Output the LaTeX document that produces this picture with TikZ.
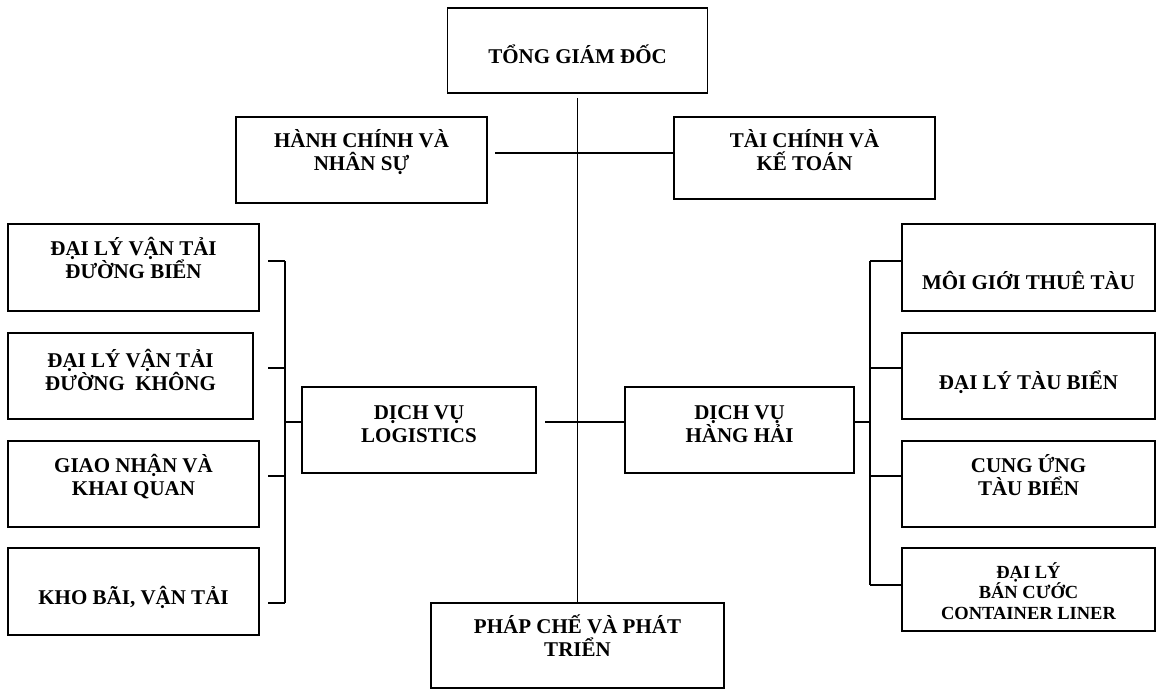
\documentclass[tikz,border=0pt]{standalone}
\usepackage{fontspec}
\setmainfont{Liberation Serif}
\usepackage{tikz}
\usetikzlibrary{calc}
\newcommand{\bigtxt}{\fontsize{21}{23}\selectfont\bfseries}
\newcommand{\smalltxt}{\fontsize{18.5}{20.5}\selectfont\bfseries}

\tikzset{
  unit/.style={draw, line width=1.9pt, inner sep=0pt, outer sep=0pt,
               align=center, font=\bigtxt},
  bl/.style={text height={35pt+#1pt}, text depth={35pt-#1pt}},
  link/.style={line width=1.7pt}
}

\begin{document}
\begin{tikzpicture}[x=1pt, y=-1pt]
  \useasboundingbox (0,0) rectangle (1159,690);

  % top level
  \node[unit, bl=13.5, minimum width=260pt, minimum height=85pt] (tgd) at (577.5,50.5) {TỔNG GIÁM ĐỐC};
  \node[unit, bl=10, minimum width=251pt, minimum height=86pt] (hcns) at (361.5,160) {HÀNH CHÍNH VÀ\\NHÂN SỰ};
  \node[unit, bl=12, minimum width=261pt, minimum height=82pt] (tckt) at (804.5,158) {TÀI CHÍNH VÀ\\KẾ TOÁN};

  % services
  \node[unit, bl=12, minimum width=234pt, minimum height=86pt] (dvlog) at (419,430) {DỊCH VỤ\\LOGISTICS};
  \node[unit, bl=12, minimum width=229pt, minimum height=86pt] (dvhh) at (739.5,430) {DỊCH VỤ\\HÀNG HẢI};
  \node[unit, bl=10.5, minimum width=293pt, minimum height=85pt] (pcpt) at (577.5,645.5) {PHÁP CHẾ VÀ PHÁT\\TRIỂN};

  % logistics column
  \node[unit, bl=10.5, minimum width=251pt, minimum height=87pt] (dlbien) at (133.5,267.5) {ĐẠI LÝ VẬN TẢI\\ĐƯỜNG BIỂN};
  \node[unit, bl=14, minimum width=245pt, minimum height=86pt] (dlkhong) at (130.5,376) {ĐẠI LÝ VẬN TẢI\\ĐƯỜNG~ KHÔNG};
  \node[unit, bl=11, minimum width=251pt, minimum height=86pt] (gnkq) at (133.5,484) {GIAO NHẬN VÀ\\KHAI QUAN};
  \node[unit, bl=12.5, minimum width=251pt, minimum height=87pt] (khobai) at (133.5,591.5) {KHO BÃI, VẬN TẢI};

  % maritime column
  \node[unit, bl=21.5, minimum width=253pt, minimum height=87pt] (mgtt) at (1028.5,267.5) {MÔI GIỚI THUÊ TÀU};
  \node[unit, bl=13, minimum width=253pt, minimum height=86pt] (dltb) at (1028.5,376) {ĐẠI LÝ TÀU BIỂN};
  \node[unit, bl=11, minimum width=253pt, minimum height=86pt] (cutb) at (1028.5,484) {CUNG ỨNG\\TÀU BIỂN};
  \node[unit, bl=29.5, font=\smalltxt, minimum width=253pt, minimum height=83pt] (dlbc) at (1028.5,589.5) {ĐẠI LÝ\\BÁN CƯỚC\\CONTAINER LINER};

  \coordinate (lb) at (285,0);
  \coordinate (rb) at (870,0);

  % trunk and branches
  \draw[link, shorten <=5pt] (tgd.south) -- (tgd.south |- pcpt.north);
  \draw[link, shorten <=8pt] ([yshift=7pt]hcns.east) -- ([yshift=7pt]hcns.east -| tckt.west);
  \draw[link, shorten <=9pt] ([yshift=8pt]dvlog.east) -- ([yshift=8pt]dvlog.east -| dvhh.west);
  \draw[link] ([yshift=8pt]dvlog.west) -- ([yshift=8pt]dvlog.west -| lb);
  \draw[link] ([yshift=8pt]dvhh.east) -- ([yshift=8pt]dvhh.east -| rb);

  % left bracket
  \foreach \n/\s/\g in {dlbien/6.5/9, dlkhong/8/15, gnkq/8/9, khobai/-11.5/9}
    \draw[link, shorten <=\g pt] ([yshift=\s pt]\n.east) -- ([yshift=\s pt]\n.east -| lb);
  \draw[link] ([yshift=6.5pt]dlbien.east -| lb) -- ([yshift=-11.5pt]khobai.east -| lb);

  % right bracket
  \foreach \n/\s in {mgtt/6.5, dltb/8, cutb/8, dlbc/4.5}
    \draw[link] ([yshift=\s pt]\n.west) -- ([yshift=\s pt]\n.west -| rb);
  \draw[link] ([yshift=6.5pt]mgtt.west -| rb) -- ([yshift=4.5pt]dlbc.west -| rb);
\end{tikzpicture}
\end{document}
